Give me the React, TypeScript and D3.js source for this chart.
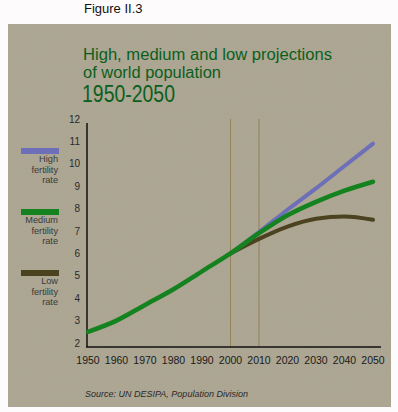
import React from "react";
import * as d3 from "d3";

const years = [1950, 1960, 1970, 1980, 1990, 2000, 2010, 2020, 2030, 2040, 2050];
const medium = [2.5, 3.0, 3.7, 4.4, 5.2, 6.0, 6.9, 7.7, 8.3, 8.8, 9.2];
const projYears = [2000, 2010, 2020, 2030, 2040, 2050];
const high = [6.0, 6.95, 7.95, 8.9, 9.9, 10.9];
const low = [6.0, 6.65, 7.2, 7.55, 7.65, 7.5];
const yTicks = [2, 3, 4, 5, 6, 7, 8, 9, 10, 11, 12];
const gridYears = [2000, 2010];

const legend = [
  { lines: ["High", "fertility", "rate"], color: "#6d6fb8" },
  { lines: ["Medium", "fertility", "rate"], color: "#13821f" },
  { lines: ["Low", "fertility", "rate"], color: "#4b4220" },
];

const FONT = "'Liberation Sans', Arial, Helvetica, sans-serif";

export default function App() {
  const x = d3.scaleLinear().domain([1950, 2050]).range([88, 373]);
  const y = d3.scaleLinear().domain([2, 12]).range([343, 119]);

  const line = d3
    .line<[number, number]>()
    .x((d) => x(d[0]))
    .y((d) => y(d[1]))
    .curve(d3.curveMonotoneX);

  const medPts = years.map((yr, i) => [yr, medium[i]] as [number, number]);
  const highPts = projYears.map((yr, i) => [yr, high[i]] as [number, number]);
  const lowPts = projYears.map((yr, i) => [yr, low[i]] as [number, number]);

  const axisY = y(2) + 4;

  return (
    <svg
      width={398}
      height={412}
      style={{ position: "absolute", left: 0, top: 0, background: "#fdfbfb" }}
      fontFamily={FONT}
    >
      <defs>
        <filter id="grain" x="0" y="0" width="100%" height="100%">
          <feTurbulence type="fractalNoise" baseFrequency="0.9" numOctaves="2" seed="3" />
          <feColorMatrix
            type="matrix"
            values="0 0 0 0 0.45  0 0 0 0 0.42  0 0 0 0 0.33  0 0 0 0.9 -0.25"
          />
          <feComposite in2="SourceGraphic" operator="in" />
        </filter>
      </defs>

      <text x={84} y={13} fontSize={13} fill="#111">
        Figure II.3
      </text>

      {/* panel */}
      <rect x={8} y={24} width={383} height={383} fill="#aba592" />
      <rect x={8} y={24} width={383} height={383} fill="#aba592" filter="url(#grain)" opacity={0.55} />

      {/* title */}
      <text x={83} y={60} fontSize={16} fill="#0b5f1c" textLength={249} lengthAdjust="spacingAndGlyphs">
        High, medium and low projections
      </text>
      <text x={83} y={78} fontSize={16} fill="#0b5f1c" textLength={138} lengthAdjust="spacingAndGlyphs">
        of world population
      </text>
      <text x={82} y={102} fontSize={23} fill="#0b5f1c" textLength={93} lengthAdjust="spacingAndGlyphs">
        1950-2050
      </text>

      {/* grid lines */}
      {gridYears.map((g) => (
        <line key={g} x1={x(g)} x2={x(g)} y1={119} y2={axisY} stroke="#8c7a4c" strokeWidth={0.8} />
      ))}

      {/* y axis */}
      <line x1={87} x2={87} y1={123} y2={axisY} stroke="#111" strokeWidth={1.5} />
      {yTicks.map((t) => (
        <text key={t} x={80} y={y(t) + 3.5} fontSize={10} textAnchor="end" fill="#2a2a2a">
          {t}
        </text>
      ))}

      {/* x axis */}
      <line x1={86} x2={381} y1={axisY} y2={axisY} stroke="#111" strokeWidth={1.5} />
      {years.map((yr) => (
        <text key={yr} x={x(yr)} y={364} fontSize={10.5} textAnchor="middle" fill="#1a1a1a">
          {yr}
        </text>
      ))}

      {/* series */}
      <path d={line(lowPts) ?? ""} fill="none" stroke="#4b4220" strokeWidth={4} strokeLinecap="round" />
      <path d={line(highPts) ?? ""} fill="none" stroke="#6d6fb8" strokeWidth={4} strokeLinecap="round" />
      <path d={line(medPts) ?? ""} fill="none" stroke="#13821f" strokeWidth={4.5} strokeLinecap="round" />

      {/* legend */}
      {legend.map((l, i) => {
        const top = 148 + i * 61;
        return (
          <g key={l.lines[0]}>
            <rect x={21} y={top} width={38} height={6} fill={l.color} />
            {l.lines.map((s, j) => (
              <text key={j} x={58} y={top + 14 + j * 10.5} fontSize={9.2} textAnchor="end" fill="#3a3a36">
                {s}
              </text>
            ))}
          </g>
        );
      })}

      <text x={85} y={397} fontSize={9} fontStyle="italic" fill="#2a2a2a">
        Source: UN DESIPA, Population Division
      </text>
    </svg>
  );
}
